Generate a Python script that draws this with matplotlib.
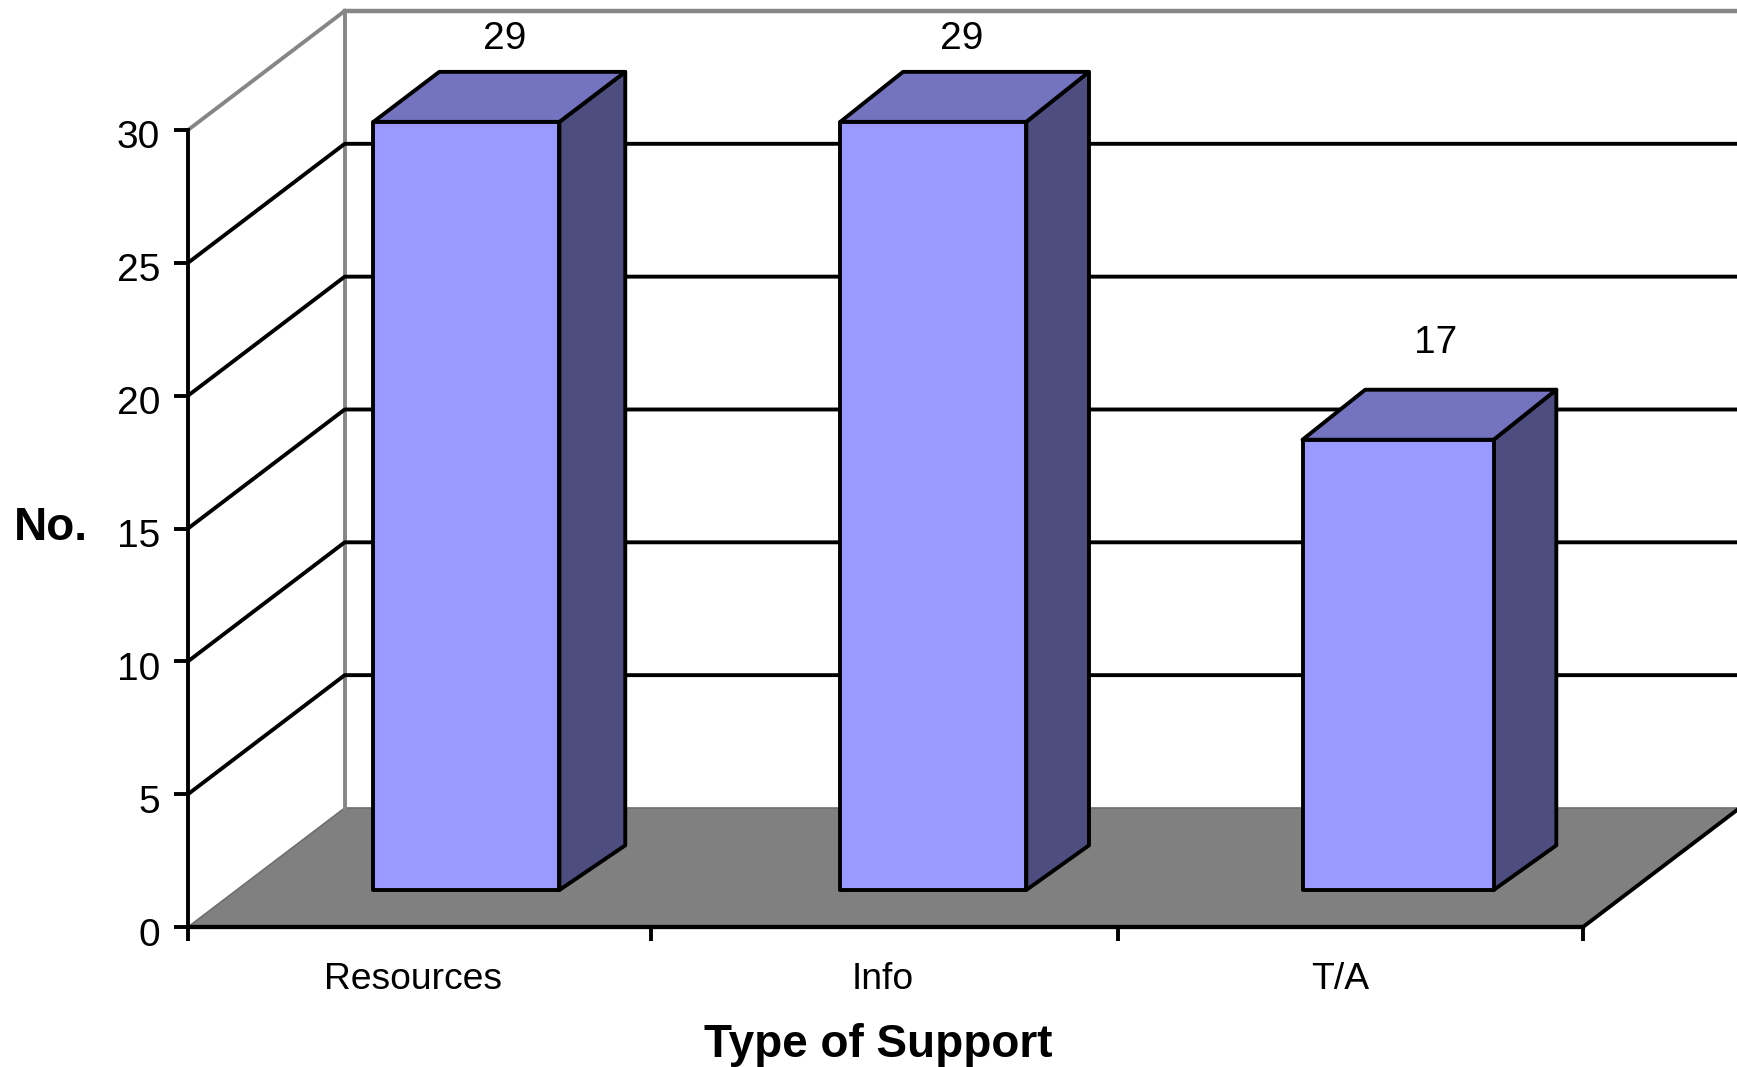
import matplotlib
matplotlib.use("Agg")
import matplotlib.pyplot as plt
from matplotlib.patches import Polygon
from matplotlib.transforms import ScaledTranslation

plt.rcParams['font.family'] = ['Liberation Sans', 'DejaVu Sans']

# data
categories = ['Resources', 'Info', 'T/A']
values = [29, 29, 17]
y_ticks = [0, 5, 10, 15, 20, 25, 30]

# where things sit along the category axis
bar_left = [0.294, 1.298, 2.292]
bar_width = [0.40, 0.40, 0.411]
label_pos = [0.484, 1.495, 2.477]
x_ticks = [0, 0.995, 2.0, 3]

# fake 3d: how far the back wall is shifted from the front axis
depth_x = 0.337
depth_y = 4.48
bar_front = 0.311
bar_depth_x = [0.42, 0.40, 0.40]
bar_depth_y = 0.42
bar_base_depth_y = 0.375
bar_scale = 0.997

# value label offsets in points, from the back edge of the bar top
value_dx = [-20, -24.7, -18.4]
value_dy = [24, 24, 33.5]


def proj(x, y, d):
    return (x + d * depth_x, y + d * depth_y)


W, H = 1737, 1067
fig = plt.figure(figsize=(W / 100, H / 100), dpi=100)
ax = fig.add_axes([188 / W, (H - 927) / H, 1395 / W, 797 / H])
ax.set_xlim(0, 3)
ax.set_ylim(0, 30)

GRAY = '#868686'
LW = 2.8

# floor
floor = Polygon([proj(0, 0, 0), proj(3, 0, 0), proj(3, 0, 1), proj(0, 0, 1)],
                facecolor='#808080', edgecolor='none', clip_on=False, zorder=1)
ax.add_patch(floor)
ax.plot(*zip(proj(0, 0, 1), proj(3, 0, 1)), color='#6e6e6e', lw=1.2, clip_on=False, zorder=1.1)
ax.plot(*zip(proj(0, 0, 0), proj(0, 0, 1)), color='#6e6e6e', lw=1.2, clip_on=False, zorder=1.1)
ax.plot(*zip(proj(3, 0, 0), proj(3, 0, 1)), color='black', lw=LW, clip_on=False, zorder=2)

# walls and gridlines
ax.plot(*zip(proj(0, 0, 1), proj(0, 30, 1)), color=GRAY, lw=LW, clip_on=False, zorder=1.5)
ax.plot(*zip(proj(0, 30, 0), proj(0, 30, 1)), color=GRAY, lw=LW, clip_on=False, zorder=1.5)
ax.plot(*zip(proj(0, 30, 1), proj(3, 30, 1)), color=GRAY, lw=LW + 0.4, clip_on=False, zorder=1.5)
for t in y_ticks[1:-1]:
    ax.plot(*zip(proj(0, t, 0), proj(0, t, 1), proj(3, t, 1)), color='black', lw=LW,
            clip_on=False, zorder=2)

# bars
for i, v in enumerate(values):
    x0, y0 = proj(bar_left[i], 0, bar_front)
    x1 = x0 + bar_width[i]
    y1 = y0 + v * bar_scale
    dx = bar_depth_x[i] * depth_x
    dy = bar_depth_y * depth_y
    base_dy = bar_base_depth_y * depth_y
    front = [(x0, y0), (x1, y0), (x1, y1), (x0, y1)]
    top = [(x0, y1), (x1, y1), (x1 + dx, y1 + dy), (x0 + dx, y1 + dy)]
    side = [(x1, y0), (x1 + dx, y0 + base_dy), (x1 + dx, y1 + dy), (x1, y1)]
    for pts, col in [(side, '#4D4D80'), (top, '#7373BF'), (front, '#9999FF')]:
        ax.add_patch(Polygon(pts, facecolor=col, edgecolor='black', lw=LW, joinstyle='round',
                             clip_on=False, zorder=3))
    ax.annotate(str(v), (x0 + bar_width[i] / 2 + dx, y1 + dy),
                xytext=(value_dx[i], value_dy[i]), textcoords='offset points',
                ha='center', va='center', fontsize=28, annotation_clip=False, zorder=4)

# axes
for s in ['top', 'right']:
    ax.spines[s].set_visible(False)
ax.spines['left'].set_linewidth(LW)
ax.spines['bottom'].set_linewidth(LW + 0.3)
ax.spines['left'].set_zorder(2.5)
ax.spines['bottom'].set_zorder(2.5)

ax.set_yticks(y_ticks)
ax.set_xticks(x_ticks)
ax.set_xticklabels([])
ax.set_xticks(label_pos, labels=categories, minor=True)
ax.tick_params(axis='both', which='major', direction='out', length=10, width=LW, labelsize=28, pad=10)
ax.tick_params(axis='x', which='minor', length=0, labelsize=26.8, pad=25.5)

# tick numbers sit a little below their ticks
shift = ScaledTranslation(0, -4.5 / 100, fig.dpi_scale_trans)
for lab in ax.get_yticklabels():
    lab.set_transform(lab.get_transform() + shift)

ax.set_xlabel('Type of Support', fontsize=33, fontweight='bold', va='center')
ax.xaxis.set_label_coords(0.495, -0.1485)
ax.set_ylabel('No.', fontsize=33, fontweight='bold', rotation=0, ha='center', va='center')
ax.yaxis.set_label_coords(-0.098, 0.5)

fig.savefig('out.png', dpi=100)
